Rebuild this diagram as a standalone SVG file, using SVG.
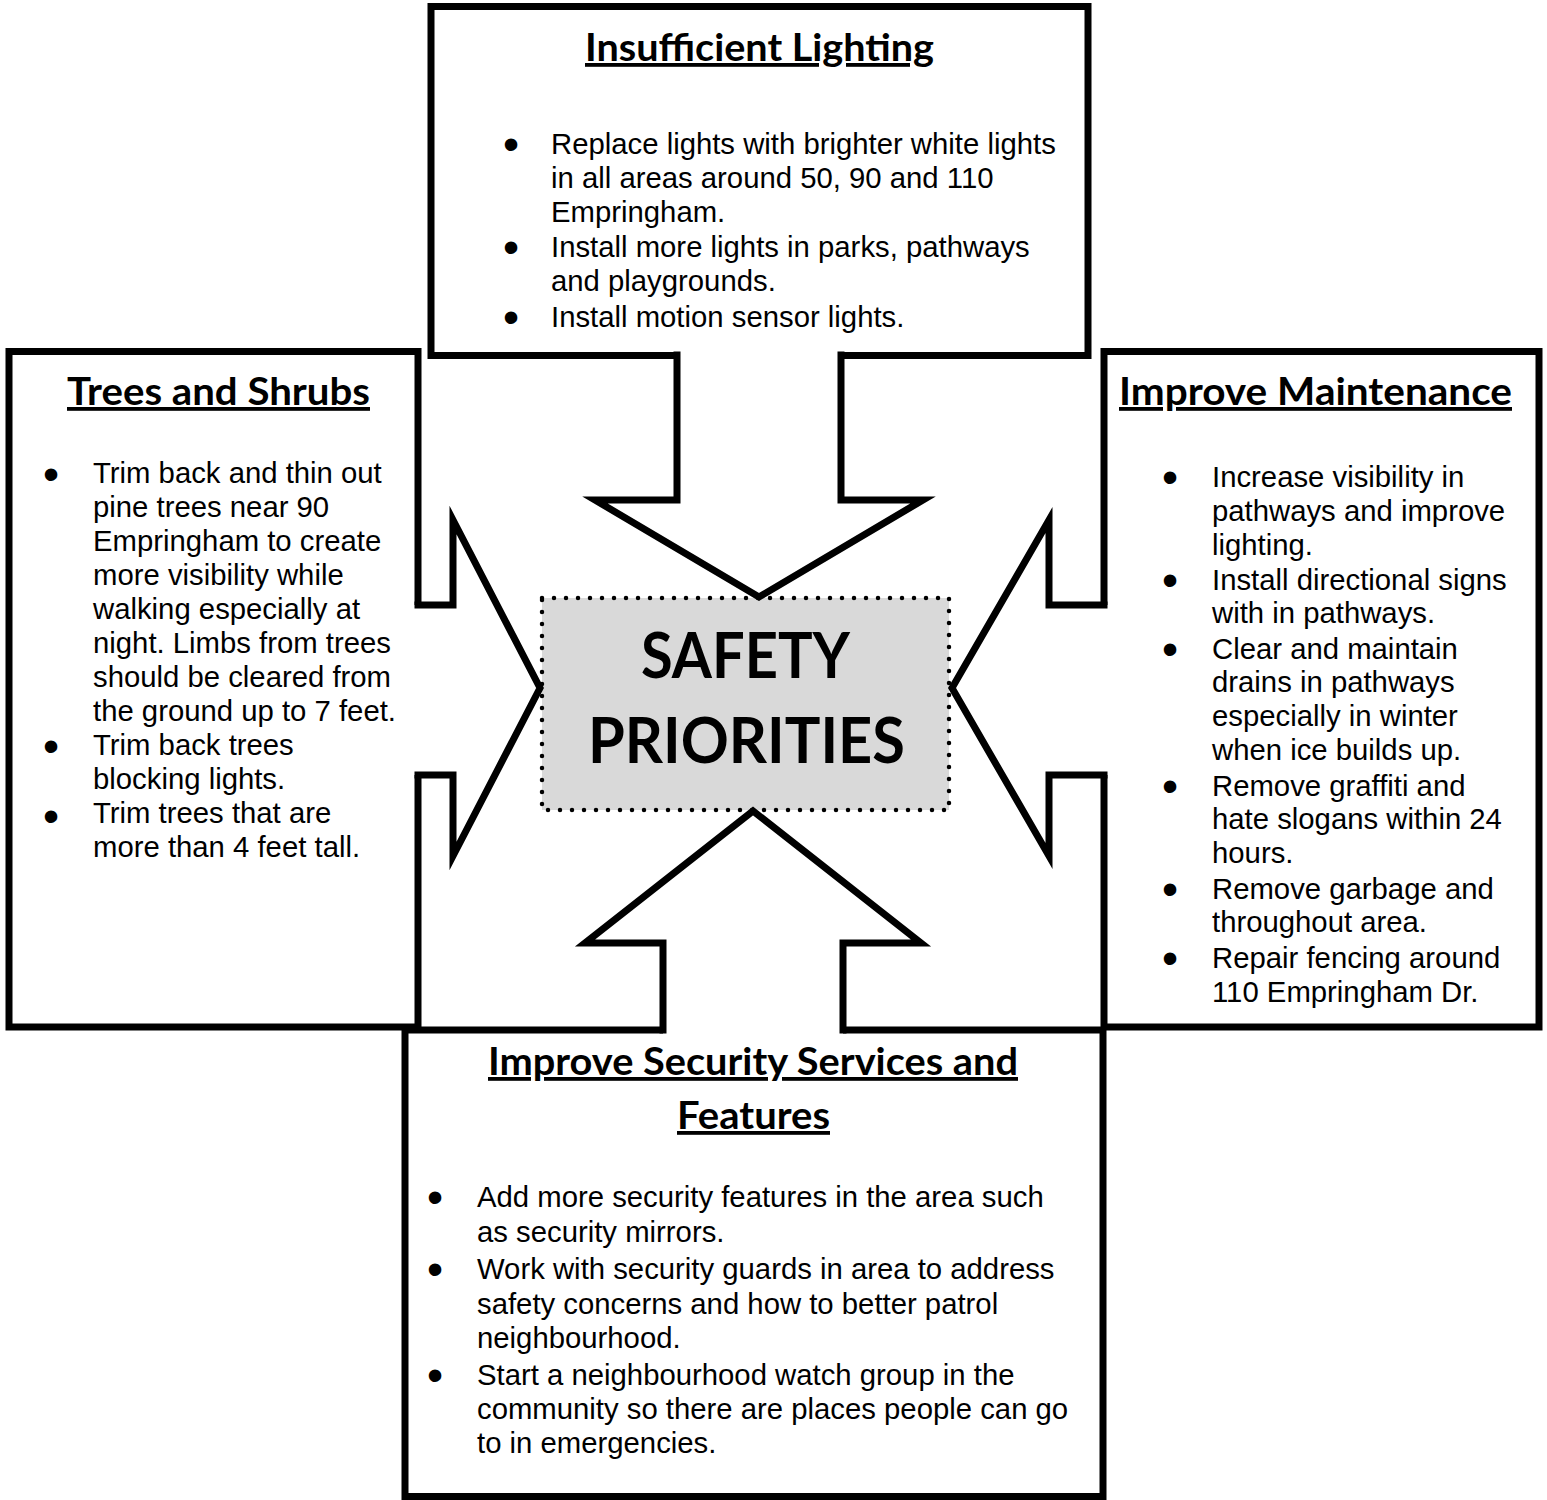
<svg xmlns="http://www.w3.org/2000/svg" width="1547" height="1500" viewBox="0 0 1547 1500">
  <style>
    .box { fill: #ffffff; stroke: #000000; stroke-width: 7; }
    .arrow-fill { fill: #ffffff; stroke: none; }
    .arrow-line { fill: none; stroke: #000000; stroke-width: 7; stroke-linejoin: miter; stroke-miterlimit: 10; stroke-linecap: square; }
    .head { font-family: Lato, "Open Sans", sans-serif; font-weight: 700; font-size: 38px; text-decoration: underline; text-anchor: middle; fill: #000000; }
    .body { font-family: "Liberation Sans", Arial, sans-serif; font-size: 29.3px; fill: #000000; }
    .bullet { font-family: "Liberation Sans", Arial, sans-serif; font-size: 46px; text-anchor: middle; fill: #000000; }
    .core { fill: #d9d9d9; stroke: #000000; stroke-width: 4.5; stroke-dasharray: 0 12; stroke-linecap: round; }
    .core-text { font-family: Lato, "Open Sans", sans-serif; font-weight: 700; font-size: 63px; text-anchor: middle; fill: #000000; }
  </style>

  <!-- Insufficient Lighting -->
  <g id="node-lighting">
    <rect class="box" x="431" y="6.5" width="657" height="349"/>
    <text class="head" x="759.5" y="61" textLength="349" lengthAdjust="spacingAndGlyphs">Insufficient Lighting</text>
    <text class="bullet" x="511" y="160">•</text>
    <text class="bullet" x="511" y="263">•</text>
    <text class="bullet" x="511" y="333">•</text>
    <text class="body" x="551">
      <tspan x="551" y="154">Replace lights with brighter white lights</tspan>
      <tspan x="551" y="188">in all areas around 50, 90 and 110</tspan>
      <tspan x="551" y="222">Empringham.</tspan>
      <tspan x="551" y="257">Install more lights in parks, pathways</tspan>
      <tspan x="551" y="291">and playgrounds.</tspan>
      <tspan x="551" y="327">Install motion sensor lights.</tspan>
    </text>
  </g>

  <!-- Trees and Shrubs -->
  <g id="node-trees">
    <rect class="box" x="9" y="351.5" width="409" height="675.5"/>
    <text class="head" x="218.5" y="405" textLength="303" lengthAdjust="spacingAndGlyphs">Trees and Shrubs</text>
    <text class="bullet" x="51" y="490">•</text>
    <text class="bullet" x="51" y="762">•</text>
    <text class="bullet" x="51" y="832">•</text>
    <text class="body">
      <tspan x="93" y="483">Trim back and thin out</tspan>
      <tspan x="93" y="517">pine trees near 90</tspan>
      <tspan x="93" y="551">Empringham to create</tspan>
      <tspan x="93" y="585">more visibility while</tspan>
      <tspan x="93" y="619">walking especially at</tspan>
      <tspan x="93" y="653">night. Limbs from trees</tspan>
      <tspan x="93" y="687">should be cleared from</tspan>
      <tspan x="93" y="721">the ground up to 7 feet.</tspan>
      <tspan x="93" y="755">Trim back trees</tspan>
      <tspan x="93" y="789">blocking lights.</tspan>
      <tspan x="93" y="823">Trim trees that are</tspan>
      <tspan x="93" y="857">more than 4 feet tall.</tspan>
    </text>
  </g>

  <!-- Improve Maintenance -->
  <g id="node-maintenance">
    <rect class="box" x="1104" y="351.5" width="435" height="675.5"/>
    <text class="head" x="1315.5" y="405" textLength="393" lengthAdjust="spacingAndGlyphs">Improve Maintenance</text>
    <text class="bullet" x="1170" y="493">•</text>
    <text class="bullet" x="1170" y="596">•</text>
    <text class="bullet" x="1170" y="665">•</text>
    <text class="bullet" x="1170" y="802">•</text>
    <text class="bullet" x="1170" y="905">•</text>
    <text class="bullet" x="1170" y="974">•</text>
    <text class="body">
      <tspan x="1212" y="487">Increase visibility in</tspan>
      <tspan x="1212" y="521">pathways and improve</tspan>
      <tspan x="1212" y="555">lighting.</tspan>
      <tspan x="1212" y="590">Install directional signs</tspan>
      <tspan x="1212" y="623">with in pathways.</tspan>
      <tspan x="1212" y="659">Clear and maintain</tspan>
      <tspan x="1212" y="692">drains in pathways</tspan>
      <tspan x="1212" y="726">especially in winter</tspan>
      <tspan x="1212" y="760">when ice builds up.</tspan>
      <tspan x="1212" y="796">Remove graffiti and</tspan>
      <tspan x="1212" y="829">hate slogans within 24</tspan>
      <tspan x="1212" y="863">hours.</tspan>
      <tspan x="1212" y="899">Remove garbage and</tspan>
      <tspan x="1212" y="932">throughout area.</tspan>
      <tspan x="1212" y="968">Repair fencing around</tspan>
      <tspan x="1212" y="1002">110 Empringham Dr.</tspan>
    </text>
  </g>

  <!-- Improve Security Services and Features -->
  <g id="node-security">
    <rect class="box" x="405" y="1030" width="698" height="466.5"/>
    <text class="head" x="753" y="1075" textLength="530" lengthAdjust="spacingAndGlyphs">Improve Security Services and</text>
    <text class="head" x="753.5" y="1129" textLength="153" lengthAdjust="spacingAndGlyphs">Features</text>
    <text class="bullet" x="435" y="1213">•</text>
    <text class="bullet" x="435" y="1285">•</text>
    <text class="bullet" x="435" y="1391">•</text>
    <text class="body">
      <tspan x="477" y="1207">Add more security features in the area such</tspan>
      <tspan x="477" y="1242">as security mirrors.</tspan>
      <tspan x="477" y="1279">Work with security guards in area to address</tspan>
      <tspan x="477" y="1314">safety concerns and how to better patrol</tspan>
      <tspan x="477" y="1348">neighbourhood.</tspan>
      <tspan x="477" y="1385">Start a neighbourhood watch group in the</tspan>
      <tspan x="477" y="1419">community so there are places people can go</tspan>
      <tspan x="477" y="1453">to in emergencies.</tspan>
    </text>
  </g>

  <!-- Central hub -->
  <g id="node-safety">
    <rect class="core" x="542" y="598" width="407" height="212"/>
    <text class="core-text" x="745.5" y="678" textLength="209" lengthAdjust="spacingAndGlyphs">SAFETY</text>
    <text class="core-text" x="746.5" y="763" textLength="317" lengthAdjust="spacingAndGlyphs">PRIORITIES</text>
  </g>

  <!-- Block arrows from each box toward the hub -->
  <g id="connectors">
    <g id="arrow-lighting">
      <polygon class="arrow-fill" points="677,350 841,350 841,500 923,500 759,597 595,500 677,500"/>
      <path class="arrow-line" d="M677,355 V500 H595 L759,597 L923,500 H841 V355"/>
    </g>
    <g id="arrow-trees">
      <polygon class="arrow-fill" points="410,605 453,605 453,520 540,688 453,856 453,775 410,775"/>
      <path class="arrow-line" d="M418,605 H453 V520 L540,688 L453,856 V775 H418"/>
    </g>
    <g id="arrow-maintenance">
      <polygon class="arrow-fill" points="1110,605 1049,605 1049,520 952,688 1049,856 1049,775 1110,775"/>
      <path class="arrow-line" d="M1104,605 H1049 V520 L952,688 L1049,856 V775 H1104"/>
    </g>
    <g id="arrow-security">
      <polygon class="arrow-fill" points="663,1035 663,943 585,943 753,811 921,943 843,943 843,1035"/>
      <path class="arrow-line" d="M663,1030 V943 H585 L753,811 L921,943 H843 V1030"/>
    </g>
  </g>
</svg>
